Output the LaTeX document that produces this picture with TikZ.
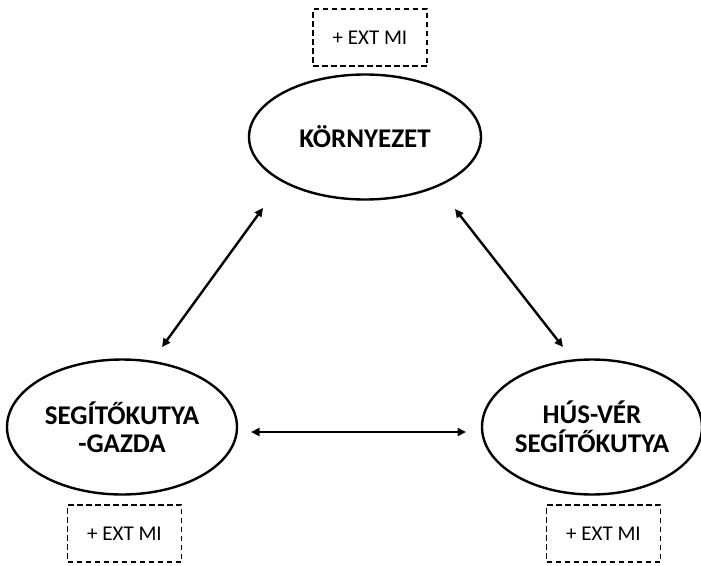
\documentclass[tikz,border=0pt]{standalone}
\usepackage{fontspec}
\setmainfont{Carlito}
\usetikzlibrary{shapes.geometric,arrows.meta}
\tikzset{
  oval/.style={draw=black, line width=2.4pt, ellipse, inner sep=0pt, align=center,
    font=\bfseries\fontsize{27}{28.5}\selectfont},
  extbox/.style={draw=black, line width=1.7pt, dash pattern=on 5.5pt off 3.5pt,
    minimum width=114pt, minimum height=57pt, inner sep=0pt, font=\fontsize{21}{24}\selectfont},
  link/.style={line width=2.4pt, {Triangle[length=8.5pt,width=8pt]}-{Triangle[length=8.5pt,width=8pt]}}
}
\begin{document}
\begin{tikzpicture}[x=1pt,y=-1pt]
\useasboundingbox (0,0) rectangle (701,565);
\node[oval, minimum width=232pt, minimum height=125pt] (env) at (365,137) {KÖRNYEZET};
\node[oval, minimum width=230pt, minimum height=135pt] (owner) at (122,427) {SEGÍTŐKUTYA\\-GAZDA};
\node[oval, minimum width=220pt, minimum height=135pt] (dog) at (592,427) {HÚS-VÉR\\SEGÍTŐKUTYA};
\node[extbox] (b1) at (370,37.5) {+ EXT MI};
\node[extbox] (b2) at (124.5,533.5) {+ EXT MI};
\node[extbox] (b3) at (603.5,533.5) {+ EXT MI};
\coordinate (a1) at (263,208);
\coordinate (a2) at (162,347);
\coordinate (a3) at (455,209);
\coordinate (a4) at (563,347);
\coordinate (a5) at (251,432);
\coordinate (a6) at (466,432);
\draw[link] (a1) -- (a2);
\draw[link] (a3) -- (a4);
\draw[link] (a5) -- (a6);
\end{tikzpicture}
\end{document}
